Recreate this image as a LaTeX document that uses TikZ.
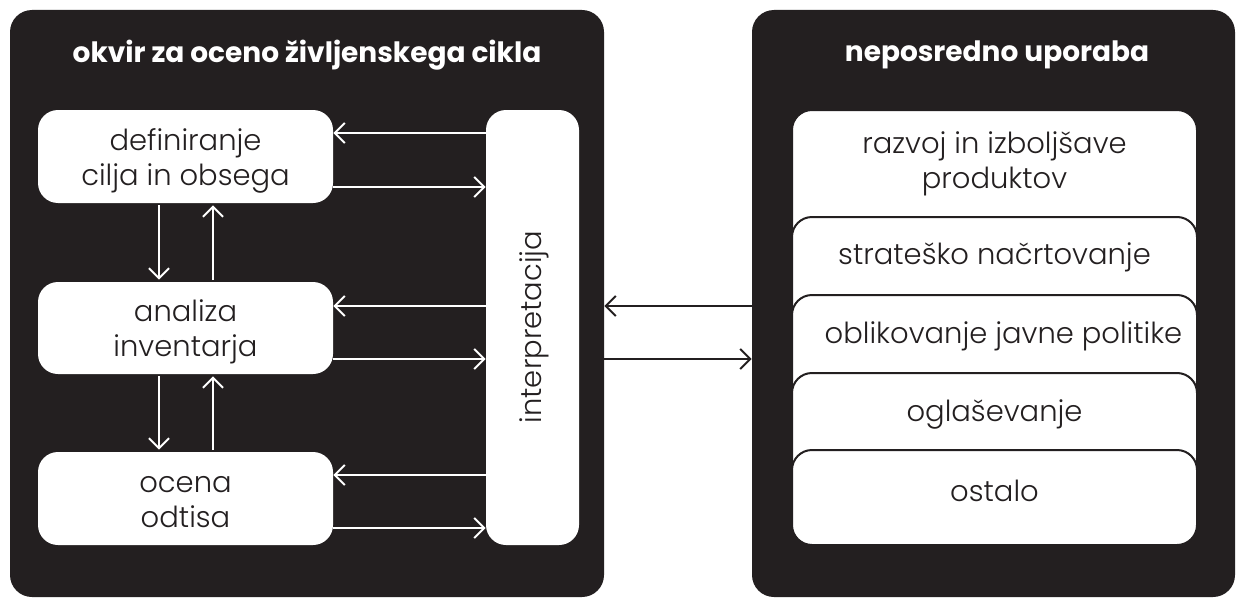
\documentclass[tikz,border=0pt]{standalone}
\usepackage{fontspec}
\usetikzlibrary{arrows.meta,calc}
\IfFontExistsTF{Poppins Light}{\setmainfont{Poppins Light}}{\setmainfont{Poppins}}
\IfFontExistsTF{Poppins Bold}{\newfontfamily\ttlfont{Poppins Bold}}{\newfontfamily\ttlfont{Poppins}[UprightFeatures={FakeBold=2}]}
\definecolor{ink}{HTML}{231F20}
\begin{document}
\begin{tikzpicture}[x=0.5pt,y=-0.5pt,
  panel/.style={fill=ink,draw=none,rounded corners=11pt,inner sep=0pt},
  wbox/.style={fill=white,draw=none,rounded corners=10pt,inner sep=0pt},
  ubox/.style={fill=white,draw=ink,line width=1pt,rounded corners=10pt,inner sep=0pt,minimum width=202.5pt},
  ttl/.style={text=white,font=\ttlfont\fontsize{14}{17}\selectfont},
  txt/.style={text=ink,font=\fontsize{14.5}{17.5}\selectfont,align=center,inner sep=0pt},
  warr/.style={draw=white,line width=1pt,-{Straight Barb[length=5pt,width=10pt,line width=1pt]}},
  darr/.style={draw=ink,line width=1pt,-{Straight Barb[length=5pt,width=10pt,line width=1pt]}}
]
\useasboundingbox (0,0) rectangle (1240,599);
% panels
\node[panel,minimum width=297pt,minimum height=293.5pt] (pl) at (307,303.5) {};
\node[panel,minimum width=241.5pt,minimum height=293.5pt] (pr) at (993.5,303.5) {};
\node[ttl] (tl) at (307,55) {okvir za oceno življenskega cikla};
\node[ttl] (tr) at (997,55) {neposredno uporaba};
% left boxes
\node[wbox,minimum width=147.5pt,minimum height=46.5pt] (def) at (185.5,156.5) {};
\node[wbox,minimum width=147.5pt,minimum height=46pt] (ana) at (185.5,328) {};
\node[wbox,minimum width=147.5pt,minimum height=46.5pt] (oce) at (185.5,498.5) {};
\node[wbox,minimum width=46.5pt,minimum height=217.5pt] (int) at (532.5,327.5) {};
\node[txt] (tdef) at ($(def)+(0,4)$) {definiranje\\cilja in obsega};
\node[txt] (tana) at ($(ana)+(0,4)$) {analiza\\inventarja};
\node[txt] (toce) at ($(oce)+(0,4)$) {ocena\\odtisa};
\node[txt,rotate=90] (tint) at (534,327) {interpretacija};
% horizontal arrows
\draw[warr] (int.west |- 0,133) -- (def.east |- 0,133);
\draw[warr] (def.east |- 0,187) -- (int.west |- 0,187);
\draw[warr] (int.west |- 0,306) -- (ana.east |- 0,306);
\draw[warr] (ana.east |- 0,359) -- (int.west |- 0,359);
\draw[warr] (int.west |- 0,475) -- (oce.east |- 0,475);
\draw[warr] (oce.east |- 0,528) -- (int.west |- 0,528);
% vertical arrows
\draw[warr,shorten <=1pt,shorten >=1pt] (def.south -| 159,0) -- (ana.north -| 159,0);
\draw[warr,shorten <=1pt,shorten >=1pt] (ana.north -| 213,0) -- (def.south -| 213,0);
\draw[warr,shorten <=1pt,shorten >=1pt] (ana.south -| 159,0) -- (oce.north -| 159,0);
\draw[warr,shorten <=1pt,shorten >=1pt] (oce.north -| 213,0) -- (ana.south -| 213,0);
% arrows between panels
\draw[darr] (pr.west |- 0,306) -- (pl.east |- 0,306);
\draw[darr] (pl.east |- 0,359) -- (pr.west |- 0,359);
% right stacked boxes
\node[ubox,minimum height=67.5pt] (r1) at (994.5,177.5) {};
\node[ubox,minimum height=53pt] (r2) at (994.5,270) {};
\node[ubox,minimum height=53pt] (r3) at (994.5,348) {};
\node[ubox,minimum height=52.5pt] (r4) at (994.5,425.5) {};
\node[ubox,minimum height=47.5pt] (r5) at (994.5,497.5) {};
\node[txt] (t1) at ($(r1.north)+(0,55)$) {razvoj in izboljšave\\produktov};
\node[txt] (t2) at ($(r2.north)+(0,41)$) {strateško načrtovanje};
\node[txt] (t3) at ($(r3.north)+(9,42)$) {oblikovanje javne politike};
\node[txt] (t4) at ($(r4.north)+(0,42)$) {oglaševanje};
\node[txt] (t5) at ($(r5.north)+(0,42)$) {ostalo};
\end{tikzpicture}
\end{document}
